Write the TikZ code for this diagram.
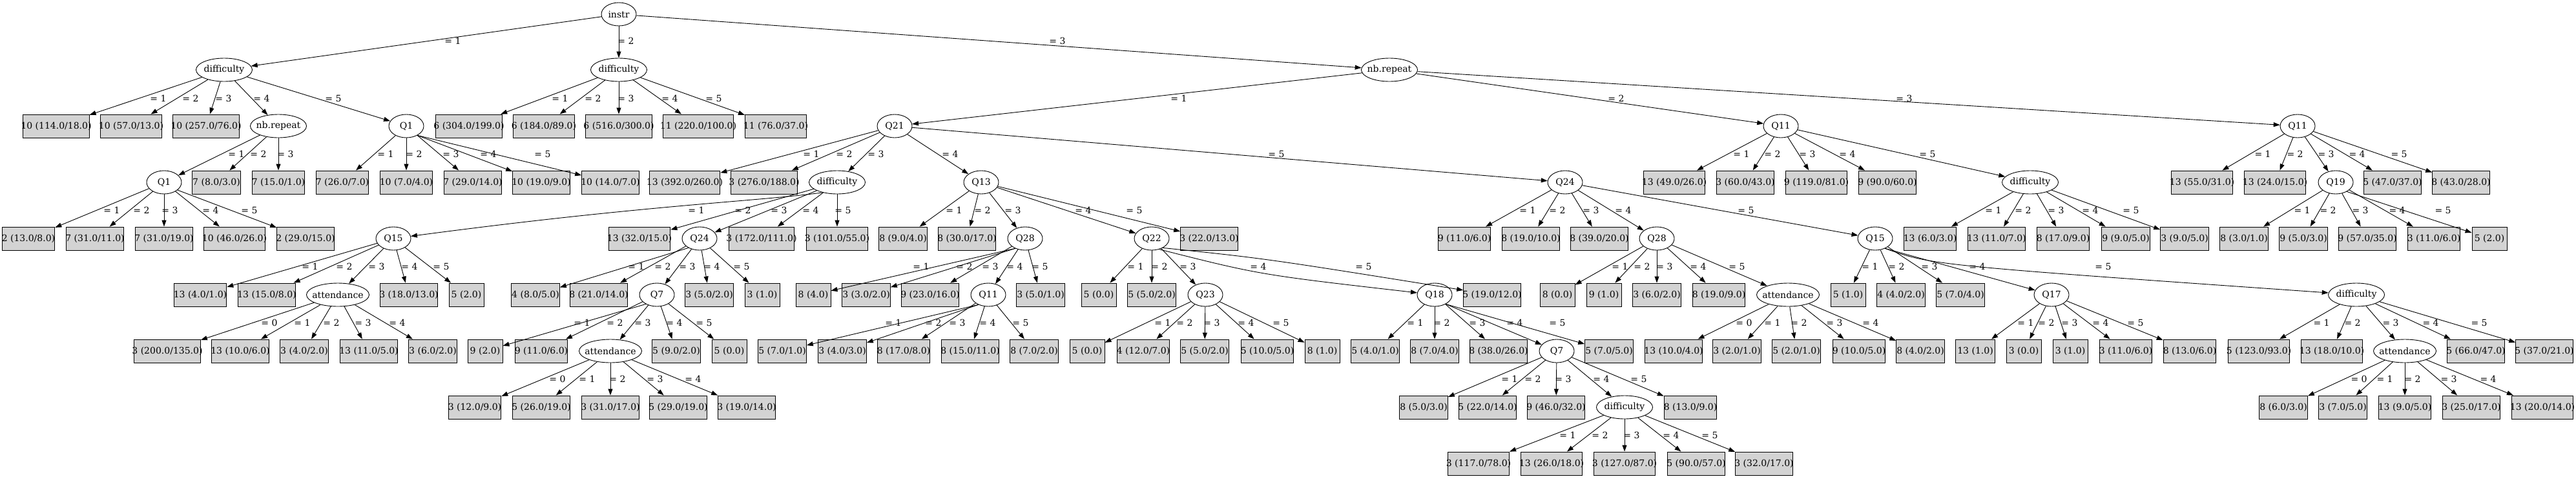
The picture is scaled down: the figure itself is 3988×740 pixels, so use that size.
\documentclass[tikz,border=0pt]{standalone}
\usepackage{fontspec}
\setmainfont{DejaVu Serif}
\newfontfamily\gvfont{Liberation Serif}
\usetikzlibrary{arrows.meta,shapes.geometric}
\definecolor{leafgray}{RGB}{211,211,211}
\newsavebox\gvbox
\newcommand{\gv}[1]{\sbox\gvbox{\gvfont #1}\makebox[\wd\gvbox]{#1}}
\newcommand{\ctr}[1]{\makebox[0pt]{#1}}
\begin{document}
\begin{tikzpicture}[x=1pt, y=-1pt, >={Triangle[length=10pt,width=7pt]},
  font=\fontsize{14}{16}\selectfont,
  attr/.style={ellipse, draw, line width=0.9pt, minimum width=54pt, minimum height=36pt, inner sep=0pt},
  dif/.style={attr, minimum width=87pt},
  att/.style={attr, minimum width=97pt},
  leaf/.style={rectangle, draw, line width=0.9pt, fill=leafgray, minimum width=54pt, minimum height=36pt, inner xsep=8pt, inner ysep=0pt},
  link/.style={->, line width=0.9pt},
  elab/.style={inner sep=0pt}]
  \useasboundingbox (0,0) rectangle (3988,740);

  % tests
  \node[attr] (instr) at (958,22) {\ctr{instr}};
  \node[dif] (dA) at (347,108) {\ctr{difficulty}};
  \node[dif] (dB) at (958,108) {\ctr{difficulty}};
  \node[dif] (nbC) at (2151,108) {\ctr{nb.repeat}};
  \node[dif] (nbA) at (431,195) {\ctr{nb.repeat}};
  \node[attr] (q1A) at (629,195) {\ctr{Q1}};
  \node[attr] (q21) at (1385,195) {\ctr{Q21}};
  \node[attr] (q11B) at (2757,195) {\ctr{Q11}};
  \node[attr] (q11C) at (3557,195) {\ctr{Q11}};
  \node[attr] (q1AA) at (254,282) {\ctr{Q1}};
  \node[dif] (dC) at (1296,282) {\ctr{difficulty}};
  \node[attr] (q13) at (1519,282) {\ctr{Q13}};
  \node[attr] (q24B) at (2423,282) {\ctr{Q24}};
  \node[dif] (dE) at (3143,282) {\ctr{difficulty}};
  \node[attr] (q19) at (3616,282) {\ctr{Q19}};
  \node[attr] (q15A) at (609,369) {\ctr{Q15}};
  \node[attr] (q24A) at (1083,369) {\ctr{Q24}};
  \node[attr] (q28A) at (1587,369) {\ctr{Q28}};
  \node[attr] (q22) at (1783,369) {\ctr{Q22}};
  \node[attr] (q28B) at (2565,369) {\ctr{Q28}};
  \node[attr] (q15B) at (2903,369) {\ctr{Q15}};
  \node[att] (attA) at (523,456) {\ctr{attendance}};
  \node[attr] (q7A) at (1017,456) {\ctr{Q7}};
  \node[attr] (q11A) at (1530,456) {\ctr{Q11}};
  \node[attr] (q23) at (1866,456) {\ctr{Q23}};
  \node[attr] (q18) at (2221,456) {\ctr{Q18}};
  \node[att] (attC) at (2768,456) {\ctr{attendance}};
  \node[attr] (q17) at (3176,456) {\ctr{Q17}};
  \node[dif] (dF) at (3648,456) {\ctr{difficulty}};
  \node[att] (attB) at (945,543) {\ctr{attendance}};
  \node[attr] (q7B) at (2410,543) {\ctr{Q7}};
  \node[att] (attD) at (3723,543) {\ctr{attendance}};
  \node[dif] (dD) at (2515,630) {\ctr{difficulty}};

  % leaves
  \node[leaf] (dAa) at (87,195) {\gv{10 (114.0/18.0)}};
  \node[leaf] (dAb) at (203,195) {\gv{10 (57.0/13.0)}};
  \node[leaf] (dAc) at (319,195) {\gv{10 (257.0/76.0)}};
  \node[leaf] (dBa) at (726,195) {\gv{6 (304.0/199.0)}};
  \node[leaf] (dBb) at (842,195) {\gv{6 (184.0/89.0)}};
  \node[leaf] (dBc) at (958,195) {\gv{6 (516.0/300.0)}};
  \node[leaf] (dBd) at (1081,195) {\gv{11 (220.0/100.0)}};
  \node[leaf] (dBe) at (1201,195) {\gv{11 (76.0/37.0)}};

  \node[leaf] (nbAb) at (335,282) {\gv{7 (8.0/3.0)}};
  \node[leaf] (nbAc) at (431,282) {\gv{7 (15.0/1.0)}};
  \node[leaf] (q1Aa) at (530,282) {\gv{7 (26.0/7.0)}};
  \node[leaf] (q1Ab) at (629,282) {\gv{10 (7.0/4.0)}};
  \node[leaf] (q1Ac) at (732,282) {\gv{7 (29.0/14.0)}};
  \node[leaf] (q1Ad) at (838,282) {\gv{10 (19.0/9.0)}};
  \node[leaf] (q1Ae) at (945,282) {\gv{10 (14.0/7.0)}};
  \node[leaf] (q21a) at (1060,282) {\gv{13 (392.0/260.0)}};
  \node[leaf] (q21b) at (1183,282) {\gv{3 (276.0/188.0)}};
  \node[leaf] (q11Ba) at (2592,282) {\gv{13 (49.0/26.0)}};
  \node[leaf] (q11Bb) at (2702,282) {\gv{3 (60.0/43.0)}};
  \node[leaf] (q11Bc) at (2812,282) {\gv{9 (119.0/81.0)}};
  \node[leaf] (q11Bd) at (2922,282) {\gv{9 (90.0/60.0)}};
  \node[leaf] (q11Ca) at (3409,282) {\gv{13 (55.0/31.0)}};
  \node[leaf] (q11Cb) at (3522,282) {\gv{13 (24.0/15.0)}};
  \node[leaf] (q11Cd) at (3704,282) {\gv{5 (47.0/37.0)}};
  \node[leaf] (q11Ce) at (3810,282) {\gv{8 (43.0/28.0)}};

  \node[leaf] (q1AAa) at (44,369) {\gv{2 (13.0/8.0)}};
  \node[leaf] (q1AAb) at (147,369) {\gv{7 (31.0/11.0)}};
  \node[leaf] (q1AAc) at (254,369) {\gv{7 (31.0/19.0)}};
  \node[leaf] (q1AAd) at (363,369) {\gv{10 (46.0/26.0)}};
  \node[leaf] (q1AAe) at (473,369) {\gv{2 (29.0/15.0)}};
  \node[leaf] (dCb) at (990,369) {\gv{13 (32.0/15.0)}};
  \node[leaf] (dCd) at (1179,369) {\gv{3 (172.0/111.0)}};
  \node[leaf] (dCe) at (1296,369) {\gv{3 (101.0/55.0)}};
  \node[leaf] (q13a) at (1398,369) {\gv{8 (9.0/4.0)}};
  \node[leaf] (q13b) at (1497,369) {\gv{8 (30.0/17.0)}};
  \node[leaf] (q13e) at (1872,369) {\gv{3 (22.0/13.0)}};
  \node[leaf] (q24Ba) at (2267,369) {\gv{9 (11.0/6.0)}};
  \node[leaf] (q24Bb) at (2370,369) {\gv{8 (19.0/10.0)}};
  \node[leaf] (q24Bc) at (2476,369) {\gv{8 (39.0/20.0)}};
  \node[leaf] (dEa) at (2988,369) {\gv{13 (6.0/3.0)}};
  \node[leaf] (dEb) at (3091,369) {\gv{13 (11.0/7.0)}};
  \node[leaf] (dEc) at (3194,369) {\gv{8 (17.0/9.0)}};
  \node[leaf] (dEd) at (3291,369) {\gv{9 (9.0/5.0)}};
  \node[leaf] (dEe) at (3382,369) {\gv{3 (9.0/5.0)}};
  \node[leaf] (q19a) at (3474,369) {\gv{8 (3.0/1.0)}};
  \node[leaf] (q19b) at (3566,369) {\gv{9 (5.0/3.0)}};
  \node[leaf] (q19c) at (3665,369) {\gv{9 (57.0/35.0)}};
  \node[leaf] (q19d) at (3768,369) {\gv{3 (11.0/6.0)}};
  \node[leaf] (q19e) at (3854,369) {\gv{5 (2.0)}};

  \node[leaf] (q15Aa) at (310,456) {\gv{13 (4.0/1.0)}};
  \node[leaf] (q15Ab) at (413,456) {\gv{13 (15.0/8.0)}};
  \node[leaf] (q15Ad) at (633,456) {\gv{3 (18.0/13.0)}};
  \node[leaf] (q15Ae) at (722,456) {\gv{5 (2.0)}};
  \node[leaf] (q24Aa) at (829,456) {\gv{4 (8.0/5.0)}};
  \node[leaf] (q24Ab) at (927,456) {\gv{8 (21.0/14.0)}};
  \node[leaf] (q24Ad) at (1098,456) {\gv{3 (5.0/2.0)}};
  \node[leaf] (q24Ae) at (1180,456) {\gv{3 (1.0)}};
  \node[leaf] (q28Aa) at (1259,456) {\gv{8 (4.0)}};
  \node[leaf] (q28Ab) at (1341,456) {\gv{3 (3.0/2.0)}};
  \node[leaf] (q28Ac) at (1440,456) {\gv{9 (23.0/16.0)}};
  \node[leaf] (q28Ae) at (1611,456) {\gv{3 (5.0/1.0)}};
  \node[leaf] (q22a) at (1701,456) {\gv{5 (0.0)}};
  \node[leaf] (q22b) at (1783,456) {\gv{5 (5.0/2.0)}};
  \node[leaf] (q22e) at (2310,456) {\gv{5 (19.0/12.0)}};
  \node[leaf] (q28Ba) at (2411,456) {\gv{8 (0.0)}};
  \node[leaf] (q28Bb) at (2483,456) {\gv{9 (1.0)}};
  \node[leaf] (q28Bc) at (2565,456) {\gv{3 (6.0/2.0)}};
  \node[leaf] (q28Bd) at (2661,456) {\gv{8 (19.0/9.0)}};
  \node[leaf] (q15Ba) at (2861,456) {\gv{5 (1.0)}};
  \node[leaf] (q15Bb) at (2943,456) {\gv{4 (4.0/2.0)}};
  \node[leaf] (q15Bc) at (3035,456) {\gv{5 (7.0/4.0)}};

  \node[leaf] (attAa) at (259,543) {\gv{3 (200.0/135.0)}};
  \node[leaf] (attAb) at (372,543) {\gv{13 (10.0/6.0)}};
  \node[leaf] (attAc) at (471,543) {\gv{3 (4.0/2.0)}};
  \node[leaf] (attAd) at (571,543) {\gv{13 (11.0/5.0)}};
  \node[leaf] (attAe) at (670,543) {\gv{3 (6.0/2.0)}};
  \node[leaf] (q7Aa) at (751,543) {\gv{9 (2.0)}};
  \node[leaf] (q7Ab) at (838,543) {\gv{9 (11.0/6.0)}};
  \node[leaf] (q7Ad) at (1047,543) {\gv{5 (9.0/2.0)}};
  \node[leaf] (q7Ae) at (1129,543) {\gv{5 (0.0)}};
  \node[leaf] (q11Aa) at (1211,543) {\gv{5 (7.0/1.0)}};
  \node[leaf] (q11Ab) at (1304,543) {\gv{3 (4.0/3.0)}};
  \node[leaf] (q11Ac) at (1399,543) {\gv{8 (17.0/8.0)}};
  \node[leaf] (q11Ad) at (1502,543) {\gv{8 (15.0/11.0)}};
  \node[leaf] (q11Ae) at (1601,543) {\gv{8 (7.0/2.0)}};
  \node[leaf] (q23a) at (1683,543) {\gv{5 (0.0)}};
  \node[leaf] (q23b) at (1770,543) {\gv{4 (12.0/7.0)}};
  \node[leaf] (q23c) at (1865,543) {\gv{5 (5.0/2.0)}};
  \node[leaf] (q23d) at (1962,543) {\gv{5 (10.0/5.0)}};
  \node[leaf] (q23e) at (2047,543) {\gv{8 (1.0)}};
  \node[leaf] (q18a) at (2129,543) {\gv{5 (4.0/1.0)}};
  \node[leaf] (q18b) at (2221,543) {\gv{8 (7.0/4.0)}};
  \node[leaf] (q18c) at (2320,543) {\gv{8 (38.0/26.0)}};
  \node[leaf] (q18e) at (2491,543) {\gv{5 (7.0/5.0)}};
  \node[leaf] (attCa) at (2591,543) {\gv{13 (10.0/4.0)}};
  \node[leaf] (attCb) at (2689,543) {\gv{3 (2.0/1.0)}};
  \node[leaf] (attCc) at (2781,543) {\gv{5 (2.0/1.0)}};
  \node[leaf] (attCd) at (2878,543) {\gv{9 (10.0/5.0)}};
  \node[leaf] (attCe) at (2973,543) {\gv{8 (4.0/2.0)}};
  \node[leaf] (q17a) at (3058,543) {\gv{13 (1.0)}};
  \node[leaf] (q17b) at (3133,543) {\gv{3 (0.0)}};
  \node[leaf] (q17c) at (3205,543) {\gv{3 (1.0)}};
  \node[leaf] (q17d) at (3291,543) {\gv{3 (11.0/6.0)}};
  \node[leaf] (q17e) at (3390,543) {\gv{8 (13.0/6.0)}};
  \node[leaf] (dFa) at (3497,543) {\gv{5 (123.0/93.0)}};
  \node[leaf] (dFb) at (3610,543) {\gv{13 (18.0/10.0)}};
  \node[leaf] (dFd) at (3833,543) {\gv{5 (66.0/47.0)}};
  \node[leaf] (dFe) at (3939,543) {\gv{5 (37.0/21.0)}};

  \node[leaf] (attBa) at (735,630) {\gv{3 (12.0/9.0)}};
  \node[leaf] (attBb) at (838,630) {\gv{5 (26.0/19.0)}};
  \node[leaf] (attBc) at (945,630) {\gv{3 (31.0/17.0)}};
  \node[leaf] (attBd) at (1050,630) {\gv{5 (29.0/19.0)}};
  \node[leaf] (attBe) at (1156,630) {\gv{3 (19.0/14.0)}};
  \node[leaf] (q7Ba) at (2204,630) {\gv{8 (5.0/3.0)}};
  \node[leaf] (q7Bb) at (2303,630) {\gv{5 (22.0/14.0)}};
  \node[leaf] (q7Bc) at (2409,630) {\gv{9 (46.0/32.0)}};
  \node[leaf] (q7Be) at (2617,630) {\gv{8 (13.0/9.0)}};
  \node[leaf] (attDa) at (3535,630) {\gv{8 (6.0/3.0)}};
  \node[leaf] (attDb) at (3627,630) {\gv{3 (7.0/5.0)}};
  \node[leaf] (attDc) at (3723,630) {\gv{13 (9.0/5.0)}};
  \node[leaf] (attDd) at (3826,630) {\gv{3 (25.0/17.0)}};
  \node[leaf] (attDe) at (3936,630) {\gv{13 (20.0/14.0)}};

  \node[leaf] (dDa) at (2289,717) {\gv{3 (117.0/78.0)}};
  \node[leaf] (dDb) at (2402,717) {\gv{13 (26.0/18.0)}};
  \node[leaf] (dDc) at (2515,717) {\gv{3 (127.0/87.0)}};
  \node[leaf] (dDd) at (2626,717) {\gv{5 (90.0/57.0)}};
  \node[leaf] (dDe) at (2731,717) {\gv{3 (32.0/17.0)}};

  % branches
  \foreach \ch/\lx/\val in {dA/701/1, dB/969/2, nbC/1637/3}
    \draw[link] (instr) -- (\ch) node[elab] at (\lx,63) {= \val};
  \foreach \ch/\lx/\val in {dAa/245/1, dAb/295/2, dAc/346/3, nbA/405/4, q1A/516/5}
    \draw[link] (dA) -- (\ch) node[elab] at (\lx,152) {= \val};
  \foreach \ch/\lx/\val in {dBa/867/1, dBb/918/2, dBc/969/3, dBd/1037/4, dBe/1105/5}
    \draw[link] (dB) -- (\ch) node[elab] at (\lx,152) {= \val};
  \foreach \ch/\lx/\val in {q21/1825/1, q11B/2502/2, q11C/2948/3}
    \draw[link] (nbC) -- (\ch) node[elab] at (\lx,152) {= \val};

  \foreach \ch/\lx/\val in {q1AA/366/1, nbAb/400/2, nbAc/442/3}
    \draw[link] (nbA) -- (\ch) node[elab] at (\lx,238) {= \val};
  \foreach \src/\ch/\lx/\val in {q1A/q1Aa/597/1, q1A/q1Ab/641/2, q1A/q1Ac/698/3, q1A.320/q1Ad/756/4, q1A.320/q1Ae/840/5}
    \draw[link] (\src) -- (\ch) node[elab] at (\lx,238) {= \val};
  \foreach \ch/\lx/\val in {q21a/1256/1, q21b/1307/2, dC/1356/3, q13/1471/4, q24B/1976/5}
    \draw[link] (q21) -- (\ch) node[elab] at (\lx,238) {= \val};
  \foreach \ch/\lx/\val in {q11Ba/2696/1, q11Bb/2744/2, q11Bc/2798/3, q11Bd/2860/4, dE/2984/5}
    \draw[link] (q11B) -- (\ch) node[elab] at (\lx,238) {= \val};
  \foreach \ch/\lx/\val in {q11Ca/3503/1, q11Cb/3553/2, q19/3601/3, q11Cd/3649/4, q11Ce/3714/5}
    \draw[link] (q11C) -- (\ch) node[elab] at (\lx,238) {= \val};

  \foreach \src/\ch/\lx/\val in {q1AA/q1AAa/173/1, q1AA/q1AAb/219/2, q1AA/q1AAc/263/3, q1AA/q1AAd/326/4, q1AA.330/q1AAe/386/5}
    \draw[link] (\src) -- (\ch) node[elab] at (\lx,325) {= \val};
  \draw[link] (dC.215) .. controls (1180,311) and (1000,317) .. (q15A) node[elab] at (1078,325) {= 1};
  \foreach \ch/\lx/\val in {dCb/1150/2, q24A/1206/3, dCd/1255/4, dCe/1305/5}
    \draw[link] (dC) -- (\ch) node[elab] at (\lx,325) {= \val};
  \foreach \ch/\lx/\val in {q13a/1477/1, q13b/1521/2, q28A/1568/3, q22/1677/4, q13e/1756/5}
    \draw[link] (q13) -- (\ch) node[elab] at (\lx,325) {= \val};
  \foreach \ch/\lx/\val in {q24Ba/2365/1, q24Bb/2411/2, q24Bc/2463/3, q28B/2513/4, q15B/2703/5}
    \draw[link] (q24B) -- (\ch) node[elab] at (\lx,325) {= \val};
  \foreach \ch/\lx/\val in {dEa/3086/1, dEb/3132/2, dEc/3183/3, dEd/3236/4, dEe/3299/5}
    \draw[link] (dE) -- (\ch) node[elab] at (\lx,325) {= \val};
  \foreach \src/\ch/\lx/\val in {q19/q19a/3564/1, q19/q19b/3604/2, q19/q19c/3654/3, q19/q19d/3711/4, q19.320/q19e/3782/5}
    \draw[link] (\src) -- (\ch) node[elab] at (\lx,325) {= \val};

  \foreach \ch/\lx/\val in {q15Aa/480/1, q15Ab/533/2, attA/583/3, q15Ad/634/4, q15Ae/683/5}
    \draw[link] (q15A) -- (\ch) node[elab] at (\lx,412) {= \val};
  \foreach \src/\ch/\lx/\val in {q24A.220/q24Aa/985/1, q24A/q24Ab/1026/2, q24A/q7A/1064/3, q24A/q24Ad/1102/4, q24A/q24Ae/1148/5}
    \draw[link] (\src) -- (\ch) node[elab] at (\lx,412) {= \val};
  \foreach \src/\ch/\lx/\val in {q28A.225/q28Aa/1426/1, q28A.225/q28Ab/1493/2, q28A/q28Ac/1533/3, q28A/q11A/1571/4, q28A/q28Ae/1610/5}
    \draw[link] (\src) -- (\ch) node[elab] at (\lx,412) {= \val};
  \foreach \ch/\lx/\val in {q22a/1758/1, q22b/1795/2, q23/1839/3}
    \draw[link] (q22) -- (\ch) node[elab] at (\lx,412) {= \val};
  \draw[link] (q22.305) .. controls (1950,425) .. (q18) node[elab] at (1948,412) {= 4};
  \draw[link] (q22.320) .. controls (1960,400) .. (q22e) node[elab] at (2111,412) {= 5};
  \foreach \ch/\lx/\val in {q28Ba/2508/1, q28Bb/2542/2, q28Bc/2577/3, q28Bd/2629/4, attC/2689/5}
    \draw[link] (q28B) -- (\ch) node[elab] at (\lx,412) {= \val};
  \foreach \src/\ch/\lx/\val in {q15B/q15Ba/2895/1, q15B/q15Bb/2936/2, q15B/q15Bc/2987/3, q15B.315/q17/3061/4}
    \draw[link] (\src) -- (\ch) node[elab] at (\lx,412) {= \val};
  \draw[link] (q15B.315) .. controls (2990,410) .. (dF) node[elab] at (3256,412) {= 5};

  \foreach \ch/\lx/\val in {attAa/417/0, attAb/468/1, attAc/513/2, attAd/562/3, attAe/615/4}
    \draw[link] (attA) -- (\ch) node[elab] at (\lx,499) {= \val};
  \foreach \src/\ch/\lx/\val in {q7A.220/q7Aa/901/1, q7A/q7Ab/952/2, q7A/attB/995/3, q7A/q7Ad/1044/4, q7A/q7Ae/1090/5}
    \draw[link] (\src) -- (\ch) node[elab] at (\lx,499) {= \val};
  \foreach \src/\ch/\lx/\val in {q11A.225/q11Aa/1383/1, q11A.225/q11Ab/1445/2, q11A/q11Ac/1482/3, q11A/q11Ad/1529/4, q11A/q11Ae/1580/5}
    \draw[link] (\src) -- (\ch) node[elab] at (\lx,499) {= \val};
  \foreach \ch/\lx/\val in {q23a/1800/1, q23b/1834/2, q23c/1876/3, q23d/1929/4, q23e/1983/5}
    \draw[link] (q23) -- (\ch) node[elab] at (\lx,499) {= \val};
  \foreach \src/\ch/\lx/\val in {q18/q18a/2191/1, q18/q18b/2232/2, q18/q18c/2287/3, q18.320/q7B/2345/4, q18.320/q18e/2411/5}
    \draw[link] (\src) -- (\ch) node[elab] at (\lx,499) {= \val};
  \foreach \ch/\lx/\val in {attCa/2700/0, attCb/2744/1, attCc/2785/2, attCd/2840/3, attCe/2896/4}
    \draw[link] (attC) -- (\ch) node[elab] at (\lx,499) {= \val};
  \foreach \ch/\lx/\val in {q17a/3136/1, q17b/3168/2, q17c/3204/3, q17d/3252/4, q17e/3306/5}
    \draw[link] (q17) -- (\ch) node[elab] at (\lx,499) {= \val};
  \foreach \ch/\lx/\val in {dFa/3594/1, dFb/3642/2, attD/3701/3, dFd/3763/4, dFe/3838/5}
    \draw[link] (dF) -- (\ch) node[elab] at (\lx,499) {= \val};

  \foreach \ch/\lx/\val in {attBa/863/0, attBb/909/1, attBc/956/2, attBd/1014/3, attBe/1073/4}
    \draw[link] (attB) -- (\ch) node[elab] at (\lx,586) {= \val};
  \foreach \ch/\lx/\val in {q7Ba/2337/1, q7Bb/2373/2, q7Bc/2420/3, dD/2479/4, q7Be/2537/5}
    \draw[link] (q7B) -- (\ch) node[elab] at (\lx,586) {= \val};
  \foreach \ch/\lx/\val in {attDa/3652/0, attDb/3692/1, attDc/3735/2, attDd/3791/3, attDe/3852/4}
    \draw[link] (attD) -- (\ch) node[elab] at (\lx,586) {= \val};

  \foreach \ch/\lx/\val in {dDa/2427/1, dDb/2477/2, dDc/2526/3, dDd/2587/4, dDe/2647/5}
    \draw[link] (dD) -- (\ch) node[elab] at (\lx,673) {= \val};
\end{tikzpicture}
\end{document}
